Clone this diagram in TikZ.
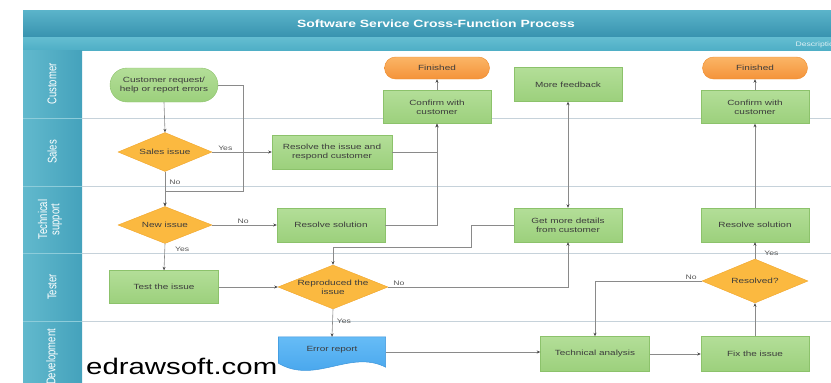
\documentclass[tikz,border=0pt]{standalone}
\usepackage{fontspec}
\setmainfont{Liberation Sans}[FakeStretch=1.33]
\newfontfamily\lanefont{Liberation Sans}
\newfontfamily\markfont{Liberation Sans}[FakeStretch=1.3]
\usetikzlibrary{shapes.geometric,arrows.meta,calc}

\definecolor{titleA}{HTML}{5BB4CA}
\definecolor{titleB}{HTML}{3893AF}
\definecolor{bandA}{HTML}{64BDD1}
\definecolor{bandB}{HTML}{4FAFC6}
\definecolor{laneA}{HTML}{62B9CD}
\definecolor{laneB}{HTML}{44A2BC}
\definecolor{laneSep}{HTML}{8DCCDA}
\definecolor{gridline}{HTML}{C6D2DA}
\definecolor{procTop}{HTML}{B3DE98}
\definecolor{procBot}{HTML}{9CD07C}
\definecolor{procborder}{HTML}{8CC26B}
\definecolor{termTop}{HTML}{FBB566}
\definecolor{termBot}{HTML}{F4933A}
\definecolor{termborder}{HTML}{EE8C2C}
\definecolor{decfill}{HTML}{FBB940}
\definecolor{decborder}{HTML}{F0A52A}
\definecolor{docTop}{HTML}{66BCF6}
\definecolor{docBot}{HTML}{3E9FEA}
\definecolor{docborder}{HTML}{3B94DA}
\definecolor{linegray}{HTML}{8A8A8A}
\definecolor{tipgray}{HTML}{4A4A4A}
\definecolor{txt}{HTML}{3C3C3C}
\definecolor{lbltxt}{HTML}{555555}

\tikzset{
  proc/.style={draw=procborder, top color=procTop, bottom color=procBot,
    minimum width=108pt, minimum height=34pt, inner sep=1pt, align=center,
    font=\fontsize{7.5}{9}\selectfont, text=txt},
  term/.style={draw=termborder, top color=termTop, bottom color=termBot,
    rounded corners=11pt, minimum width=105pt, minimum height=22pt,
    inner sep=1pt, font=\fontsize{7.5}{9}\selectfont, text=txt},
  startnode/.style={proc, rounded corners=17pt},
  dec/.style={diamond, draw=decborder, fill=decfill, aspect=2.5,
    minimum width=94pt, minimum height=38pt, inner sep=0pt, align=center,
    font=\fontsize{7.5}{9}\selectfont, text=txt},
  tip/.tip={Stealth[length=3.5pt,width=3pt,color=tipgray]},
  flow/.style={draw=linegray, line width=0.6pt, -tip},
  lbl/.style={font=\fontsize{6.5}{7}\selectfont, text=lbltxt, inner sep=1pt},
  lanetxt/.style={rotate=90, text=white, font=\lanefont\fontsize{9.5}{11}\selectfont},
  grid/.style={draw=gridline, line width=0.6pt}
}

\begin{document}
\begin{tikzpicture}[x=1pt, y=-1pt]
\useasboundingbox (0,0) rectangle (831,383);

% title bar and the band under it
\shade[top color=titleA, bottom color=titleB] (23,10) rectangle (860,37);
\shade[top color=bandA, bottom color=bandB] (23,37) rectangle (860,50);
\node[name=title, text=white, font=\bfseries\fontsize{10.5}{12}\selectfont] at (436,23.5)
  {Software Service Cross-Function Process};
\node[name=desc, anchor=base west, text=white, opacity=0.8,
  font=\fontsize{6.5}{7}\selectfont] at (792,46.5) {Description};

% lane header column
\shade[left color=laneA, right color=laneB] (23,50) rectangle (82,400);
\foreach \yy in {118,186,253,321}{
  \draw[laneSep, line width=0.8pt] (23,\yy) -- (82,\yy);
  \draw[grid] (82,\yy) -- (831,\yy);
}
\node[name=lcust, lanetxt] at (52,84) {\scalebox{1}[1.33]{Customer}};
\node[name=lsales, lanetxt] at (52,152) {\scalebox{1}[1.33]{Sales}};
\node[name=ltech, lanetxt] at (50,219.5)
  {\scalebox{1}[1.33]{\shortstack{Technical\\support}}};
\node[name=ltest, lanetxt] at (52,287) {\scalebox{1}[1.33]{Tester}};
\node[name=ldev, lanetxt] at (52,357) {\scalebox{1}[1.33]{Development}};

% process nodes
\node[startnode, name=cr] at (164,85) {Customer request/\\help or report errors};
\node[term, name=f1] at (437,68) {Finished};
\node[proc, name=c1, minimum height=33pt] at (437,107) {Confirm with\\customer};
\node[proc, name=mf] at (568,84.5) {More feedback};
\node[term, name=f2] at (755,68) {Finished};
\node[proc, name=c2, minimum height=33pt] at (755,107) {Confirm with\\customer};

\node[dec, name=si, minimum height=39pt] at (165,152) {Sales issue};
\node[proc, name=rs, minimum width=120pt] at (332,152) {Resolve the issue and\\respond customer};

\node[dec, name=ni, minimum height=37pt] at (165,225) {New issue};
\node[proc, name=rsol] at (331,225) {Resolve solution};
\node[proc, name=gd] at (568,225) {Get more details\\from customer};
\node[proc, name=rs2] at (755,225) {Resolve solution};

\node[proc, name=ti, minimum width=109pt, minimum height=33pt] at (164,287) {Test the issue};
\node[dec, name=rp, minimum width=110pt, minimum height=44pt] at (333,287) {Reproduced the\\issue};
\node[dec, name=rv, minimum width=106pt, minimum height=44pt] at (755,281) {Resolved?};

% document shape for the error report
\node[name=er, minimum width=107pt, minimum height=30pt, inner sep=0pt] at (332,352) {};
\path[draw=docborder, top color=docTop, bottom color=docBot, line width=0.5pt]
  (er.north west) -- (er.north east) -- (er.south east)
  .. controls (350,349) and (315,385) .. ($(er.south west)+(0,-4)$) -- cycle;
\node[name=ertxt, font=\fontsize{7.5}{9}\selectfont, text=txt] at (332,350) {Error report};

\node[proc, name=ta, minimum width=109pt, minimum height=35pt] at (595,354) {Technical analysis};
\node[proc, name=fx, minimum height=35pt] at (755,354) {Fix the issue};

% junction points of routed connectors
\coordinate (jn) at (243,191);
\coordinate (gk) at (471,247);

% connectors
\draw[flow] (cr.south) -- (si.north);
\draw[flow] (cr.east) -| (jn) -| (ni.north);
\draw[flow] (si.south) -- node[lbl, anchor=west, pos=0.3, xshift=3pt] {No} (ni.north);
\draw[flow] (si.east) -- node[lbl, above, pos=0.22] {Yes} (rs.west);
\draw[flow] (rs.east) -| (c1.south);
\draw[flow] (rsol.east) -| (c1.south);
\draw[flow] (c1.north) -- (f1.south);
\draw[flow] (ni.east) -- node[lbl, above, pos=0.48] {No} (rsol.west);
\draw[flow] (ni.south) -- node[lbl, anchor=west, pos=0.2, xshift=9pt] {Yes} (ti.north);
\draw[flow] (ti.east) -- (rp.west);
\draw[flow] (rp.east) -| node[lbl, above, pos=0.03] {No} (gd.south);
\draw[flow] (rp.south) -- node[lbl, anchor=west, pos=0.43, xshift=3pt] {Yes} (er.north);
\draw[flow, tip-tip] (mf.south) -- (gd.north);
\draw[flow] (gd.west) -| (gk) -| (rp.north);
\draw[flow] (er.east) -- (er.east -| ta.west);
\draw[flow] (ta.east) -- (fx.west);
\draw[flow] (fx.north) -- (rv.south);
\draw[flow] (rv.west) -| node[lbl, above, pos=0.05] {No} (ta.north);
\draw[flow] (rv.north) -- node[lbl, anchor=west, pos=0.35, xshift=8pt] {Yes} (rs2.south);
\draw[flow] (rs2.north) -- (c2.south);
\draw[flow] (c2.north) -- (f2.south);

% site mark
\node[name=wm, anchor=base west, inner sep=0pt, text=black,
  font=\markfont\fontsize{22.6}{24}\selectfont] at (86,374) {edrawsoft.com};
\end{tikzpicture}
\end{document}
